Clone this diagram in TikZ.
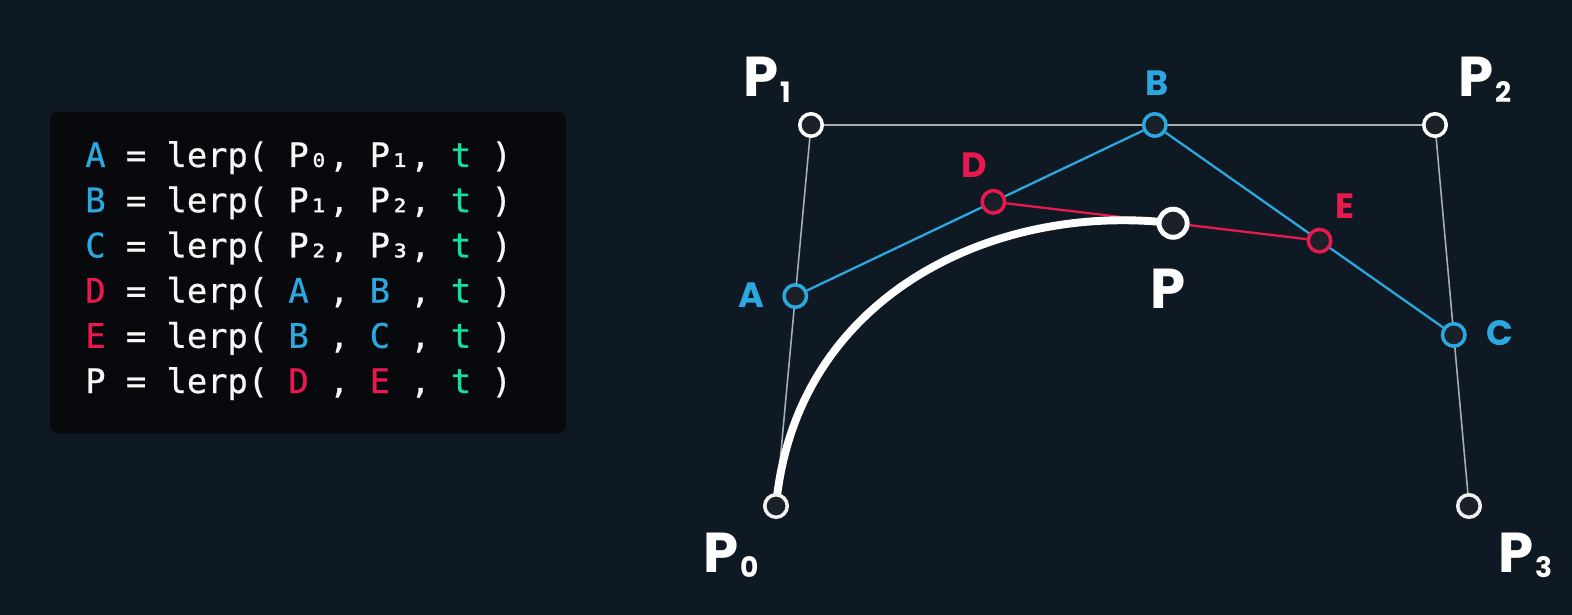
\documentclass[tikz,border=0pt]{standalone}
\usepackage{fontspec}
\usepackage{xcolor}
\usetikzlibrary{calc, backgrounds}

\newfontfamily\lblfont{Poppins}
\newfontfamily\codefont{DejaVu Sans Mono}[FakeBold=0.7]

\definecolor{bgcol}{HTML}{0F1923}
\definecolor{codebg}{HTML}{07090D}
\definecolor{ptfill}{HTML}{1A2129}
\definecolor{cblue}{HTML}{2BA8E0}
\definecolor{cred}{HTML}{E8194F}
\definecolor{cgreen}{HTML}{14E09E}
\definecolor{hullgray}{HTML}{A9AEB3}

\newcommand\clrB[1]{\textcolor{cblue}{#1}}
\newcommand\clrR[1]{\textcolor{cred}{#1}}
\newcommand\clrG[1]{\textcolor{cgreen}{#1}}
\newcommand\psub[1]{\kern1pt\raisebox{-3.4pt}{\fontsize{16}{16}\selectfont #1}}

\begin{document}
\begin{tikzpicture}[
  x=0.02cm, y=-0.02cm,
  pt/.style={circle, draw=white, line width=2pt, fill=ptfill,
             minimum size=12.8pt, inner sep=0pt},
  endpt/.style={pt, draw=white!88!gray},
  bluept/.style={pt, draw=cblue},
  redpt/.style={pt, draw=cred},
  curvept/.style={pt, line width=2.8pt, minimum size=16pt},
  biglbl/.style={anchor=base west, inner sep=0pt, text=white,
                 font=\lblfont\bfseries\fontsize{32}{36}\selectfont},
  smalllbl/.style={anchor=base west, inner sep=0pt,
                   font=\lblfont\bfseries\fontsize{20}{22}\selectfont},
  codeline/.style={anchor=base west, inner sep=0pt, text=white!94!gray,
                   font=\codefont\fontsize{19.2}{22}\selectfont},
  hull/.style={draw=hullgray, line width=0.9pt},
  blueseg/.style={draw=cblue, line width=1.3pt},
  redseg/.style={draw=cred, line width=1.3pt},
]
  \def\tval{0.551}

  % control points
  \node[endpt] (P0) at (776,506) {};
  \node[pt] (P1) at (811,125) {};
  \node[pt] (P2) at (1435,125) {};
  \node[endpt] (P3) at (1469,506) {};

  % first level
  \node[bluept] (A) at ($(P0)!\tval!(P1)$) {};
  \node[bluept] (B) at ($(P1)!\tval!(P2)$) {};
  \node[bluept] (C) at ($(P2)!\tval!(P3)$) {};
  % second level
  \node[redpt] (D) at ($(A)!\tval!(B)$) {};
  \node[redpt] (E) at ($(B)!\tval!(C)$) {};
  % point on curve
  \node[curvept] (P) at ($(D)!\tval!(E)$) {};

  \begin{scope}[on background layer]
    \fill[bgcol] (0,0) rectangle (1572,615);
    \fill[codebg, rounded corners=4pt] (50,112) rectangle (566,433);
    \draw[hull] (P0) -- (P1) -- (P2) -- (P3);
    \draw[blueseg] (A) -- (B) -- (C);
    \draw[redseg] (D) -- (E);
    \draw[white, line width=4.5pt]
      (P0.center) .. controls (A.center) and (D.center) .. (P.center);
  \end{scope}

  % labels
  \node[biglbl] (lblP0) at (703,572) {P\psub{0}};
  \node[biglbl] (lblP1) at (743,97) {P\psub{1}};
  \node[biglbl] (lblP2) at (1458,97) {P\psub{2}};
  \node[biglbl] (lblP3) at (1498,572) {P\psub{3}};
  \node[biglbl] (lblP) at (1150,308) {P};
  \node[smalllbl, text=cblue] (lblA) at (738,307) {A};
  \node[smalllbl, text=cblue] (lblB) at (1145,95) {B};
  \node[smalllbl, text=cblue] (lblC) at (1486,345) {C};
  \node[smalllbl, text=cred] (lblD) at (961,177) {D};
  \node[smalllbl, text=cred] (lblE) at (1335,218) {E};

  % code
  \foreach \txt [count=\i from 0] in {
    {\clrB{A} = lerp( P₀, P₁, \clrG{t} )},
    {\clrB{B} = lerp( P₁, P₂, \clrG{t} )},
    {\clrB{C} = lerp( P₂, P₃, \clrG{t} )},
    {\clrR{D} = lerp( \clrB{A} , \clrB{B} , \clrG{t} )},
    {\clrR{E} = lerp( \clrB{B} , \clrB{C} , \clrG{t} )},
    {P = lerp( \clrR{D} , \clrR{E} , \clrG{t} )}}
    \node[codeline] (code\i) at (85,167+45.2*\i) {\txt};
\end{tikzpicture}
\end{document}
